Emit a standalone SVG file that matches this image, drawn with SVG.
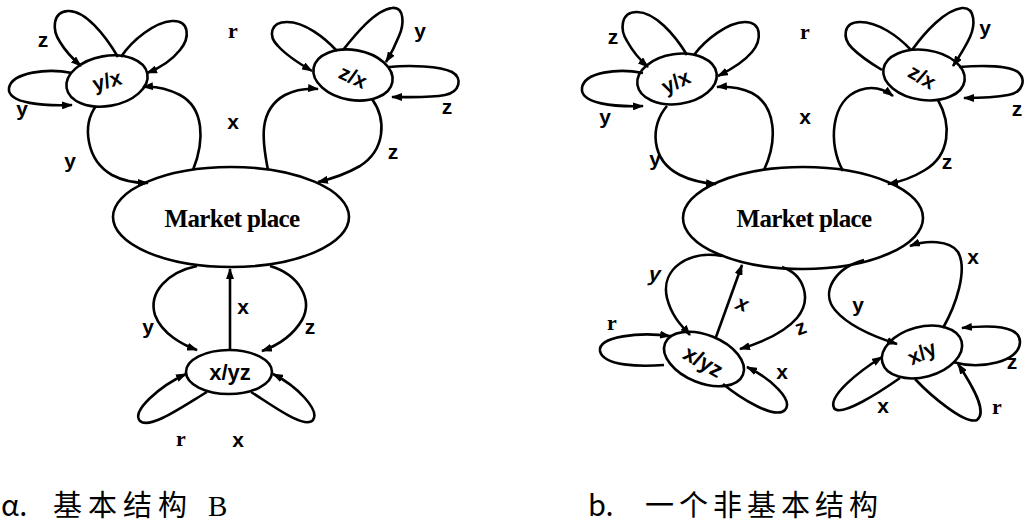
<svg xmlns="http://www.w3.org/2000/svg" width="1025" height="526" viewBox="0 0 1025 526">
<defs>
<marker id="ah" viewBox="0 0 11 8" refX="10" refY="4" markerWidth="11" markerHeight="8" markerUnits="userSpaceOnUse" orient="auto">
<path d="M0,0 L11,4 L0,8 z" fill="#000"/>
</marker>
<style>
.node{fill:#fff;stroke:#000;stroke-width:2.6}
.e{fill:none;stroke:#000;stroke-width:2.6;marker-end:url(#ah)}
.n{fill:none;stroke:#000;stroke-width:2.6}
.lbl{font-family:"Liberation Sans",Arial,sans-serif;font-weight:bold;font-size:21px;text-anchor:middle;fill:#000}
.ser{font-family:"Liberation Serif","Times New Roman",serif;font-weight:bold;font-size:22px;text-anchor:middle;fill:#000}
.nt{font-family:"Liberation Sans",Arial,sans-serif;font-weight:bold;font-size:21px;text-anchor:middle;fill:#000}
.mp{font-family:"Liberation Serif","Times New Roman",serif;font-weight:bold;font-size:25px;letter-spacing:-0.6px;text-anchor:middle;fill:#000}
.cap{font-family:"Noto Sans CJK SC","Noto Sans",sans-serif;font-size:29px;fill:#000}
</style>
</defs>
<rect width="1025" height="526" fill="#fff"/>

<!-- Diagram a nodes -->
<g id="a-yx"><ellipse class="node" cx="107" cy="81" rx="41" ry="25" transform="rotate(-10 107 81)"/><text class="nt" transform="translate(107,81) rotate(-15)" y="7">y/x</text></g>
<g id="a-zx"><ellipse class="node" cx="353" cy="75" rx="40" ry="25" transform="rotate(10 353 75)"/><text class="nt" transform="translate(353,77) rotate(25)" y="7">z/x</text></g>
<g id="a-market"><ellipse class="node" cx="231" cy="217" rx="118" ry="50"/><text class="mp" x="232" y="227">Market place</text></g>
<g id="a-xyz"><ellipse class="node" cx="229" cy="372" rx="43" ry="22"/><text class="nt" x="230" y="380" style="font-size:22px">x/yz</text></g>

<!-- Diagram b nodes -->
<g id="b-yx"><ellipse class="node" cx="677" cy="79" rx="40" ry="25" transform="rotate(-8 677 79)"/><text class="nt" transform="translate(676,82) rotate(-25)" y="7">y/x</text></g>
<g id="b-zx"><ellipse class="node" cx="924" cy="75" rx="41" ry="25" transform="rotate(8 924 75)"/><text class="nt" transform="translate(922,77) rotate(30)" y="7">z/x</text></g>
<g id="b-market"><ellipse class="node" cx="803" cy="218" rx="120" ry="51"/><text class="mp" x="804" y="227">Market place</text></g>
<g id="b-xyz"><ellipse class="node" cx="704" cy="359" rx="42" ry="24" transform="rotate(22 704 359)"/><text class="nt" transform="translate(703,362) rotate(30)" y="7" style="font-size:22px">x/yz</text></g>
<g id="b-xy"><ellipse class="node" cx="922" cy="352" rx="41" ry="25" transform="rotate(-15 922 352)"/><text class="nt" transform="translate(922,353) rotate(-25)" y="7">x/y</text></g>

<g id="connectors">
<!-- a: y/x -->
<path class="e" d="M118,57 C105,35 85,10 68,11 C52,12 52,30 60,42 C66,52 74,60 81,66"/>
<path class="e" d="M121,57 C132,40 155,22 172,21 C190,20 190,38 180,50 C172,60 160,68 147,73"/>
<path class="e" d="M72,73 C48,68 12,72 9,88 C7,104 45,106 72,105"/>
<path class="e" d="M96,106 C82,125 86,160 112,175 C123,181 135,183 148,183"/>
<path class="e" d="M193,170 C205,140 204,108 180,95 C168,89 155,86 143,87"/>
<!-- a: z/x -->
<path class="e" d="M337,51 C325,38 305,22 287,22 C270,22 268,36 278,46 C287,56 300,64 312,71"/>
<path class="e" d="M343,50 C355,35 375,10 392,8 C405,6 404,25 399,36 C395,46 391,54 386,62"/>
<path class="e" d="M389,67 C410,65 440,66 452,72 C463,78 460,92 445,95 C430,98 410,97 392,97"/>
<path class="e" d="M268,170 C262,140 258,110 285,95 C295,90 307,88 318,89"/>
<path class="e" d="M372,99 C387,120 385,150 360,166 C346,174 331,179 318,182"/>
<!-- a: x/yz -->
<path class="e" d="M230,350 L230,269"/>
<path class="e" d="M197,266 C168,272 148,292 155,315 C162,334 183,345 197,350"/>
<path class="e" d="M270,266 C300,275 313,300 302,320 C292,337 276,346 262,351"/>
<path class="e" d="M207,392 C185,405 150,430 140,421 C131,411 160,386 186,374"/>
<path class="e" d="M251,392 C272,405 305,430 313,420 C320,410 297,386 273,374"/>
<!-- b: y/x -->
<path class="e" d="M687,55 C675,35 655,12 637,12 C620,12 620,30 627,41 C633,52 640,60 648,67"/>
<path class="e" d="M694,55 C705,40 728,22 745,22 C762,22 762,40 752,52 C743,63 730,70 718,76"/>
<path class="e" d="M643,73 C618,68 584,72 582,88 C580,104 615,107 643,106"/>
<path class="e" d="M667,106 C650,125 650,160 680,175 C692,181 704,183 716,184"/>
<path class="e" d="M764,170 C778,140 776,106 752,93 C741,88 729,86 717,87"/>
<!-- b: z/x -->
<path class="n" d="M911,50 C898,36 878,22 860,22 C843,22 842,38 852,48 C861,57 872,64 882,70"/>
<path class="e" d="M912,50 C925,32 945,10 962,8 C976,7 975,26 970,37 C965,48 959,57 953,66"/>
<path class="e" d="M959,67 C985,65 1010,66 1018,72 C1027,80 1022,93 1008,95 C993,98 978,98 964,98"/>
<path class="e" d="M843,171 C828,145 830,100 860,90 C872,86 884,89 893,96"/>
<path class="e" d="M938,100 C952,125 950,155 925,170 C912,178 899,182 888,184"/>
<!-- b: x/yz -->
<path class="e" d="M722,256 C690,250 660,268 667,298 C672,318 684,328 690,335"/>
<path class="e" d="M716,337 L742,265"/>
<path class="e" d="M782,267 C805,275 812,300 797,318 C784,333 760,343 740,349"/>
<path class="e" d="M664,365 C640,367 603,366 600,351 C598,336 640,332 670,336"/>
<path class="e" d="M723,384 C740,398 775,420 785,410 C794,400 770,378 747,367"/>
<!-- b: x/y -->
<path class="e" d="M864,260 C835,268 820,292 835,310 C850,328 878,338 897,344"/>
<path class="e" d="M943,328 C956,305 968,270 958,252 C950,240 926,240 910,246"/>
<path class="e" d="M953,362 C980,370 1020,362 1020,342 C1020,325 990,325 962,328"/>
<path class="e" d="M915,379 C930,395 965,425 977,420 C988,412 972,385 958,364"/>
<path class="e" d="M900,378 C880,392 840,418 834,408 C828,396 858,372 882,357"/>
</g>

<g id="labels">
<text class="lbl" x="43" y="47">z</text>
<text class="ser" x="233" y="38">r</text>
<text class="lbl" x="22" y="116">y</text>
<text class="lbl" x="70" y="168">y</text>
<text class="lbl" x="233" y="129">x</text>
<text class="lbl" x="420" y="38">y</text>
<text class="lbl" x="447" y="114">z</text>
<text class="lbl" x="393" y="159">z</text>
<text class="lbl" x="148" y="334">y</text>
<text class="lbl" x="243" y="314">x</text>
<text class="lbl" x="310" y="334">z</text>
<text class="ser" x="181" y="446">r</text>
<text class="lbl" x="238" y="447">x</text>

<text class="lbl" x="613" y="44">z</text>
<text class="lbl" x="605" y="124">y</text>
<text class="lbl" x="655" y="166">y</text>
<text class="ser" x="805" y="39">r</text>
<text class="lbl" x="805" y="124">x</text>
<text class="lbl" x="985" y="35">y</text>
<text class="lbl" x="1017" y="116">z</text>
<text class="lbl" x="947" y="169">z</text>
<text class="lbl" transform="translate(653,281) skewX(-15)">y</text>
<text class="lbl" transform="translate(739,310) rotate(20) skewX(-10)">x</text>
<text class="lbl" transform="translate(803,334) rotate(-20)">z</text>
<text class="ser" x="612" y="330">r</text>
<text class="lbl" x="782" y="379">x</text>
<text class="lbl" x="858" y="312">y</text>
<text class="lbl" x="973" y="264">x</text>
<text class="lbl" x="1012" y="369">z</text>
<text class="ser" x="997" y="414">r</text>
<text class="lbl" x="883" y="413">x</text>
</g>

<g id="captions">
<text class="cap" y="516"><tspan x="1">α.</tspan><tspan x="53" style="letter-spacing:6px">基本结构</tspan><tspan x="208" style="font-family:'Liberation Serif',serif">B</tspan></text>
<text class="cap" y="516"><tspan x="588">b.</tspan><tspan x="645" style="letter-spacing:5px">一个非基本结构</tspan></text>
</g>
</svg>
